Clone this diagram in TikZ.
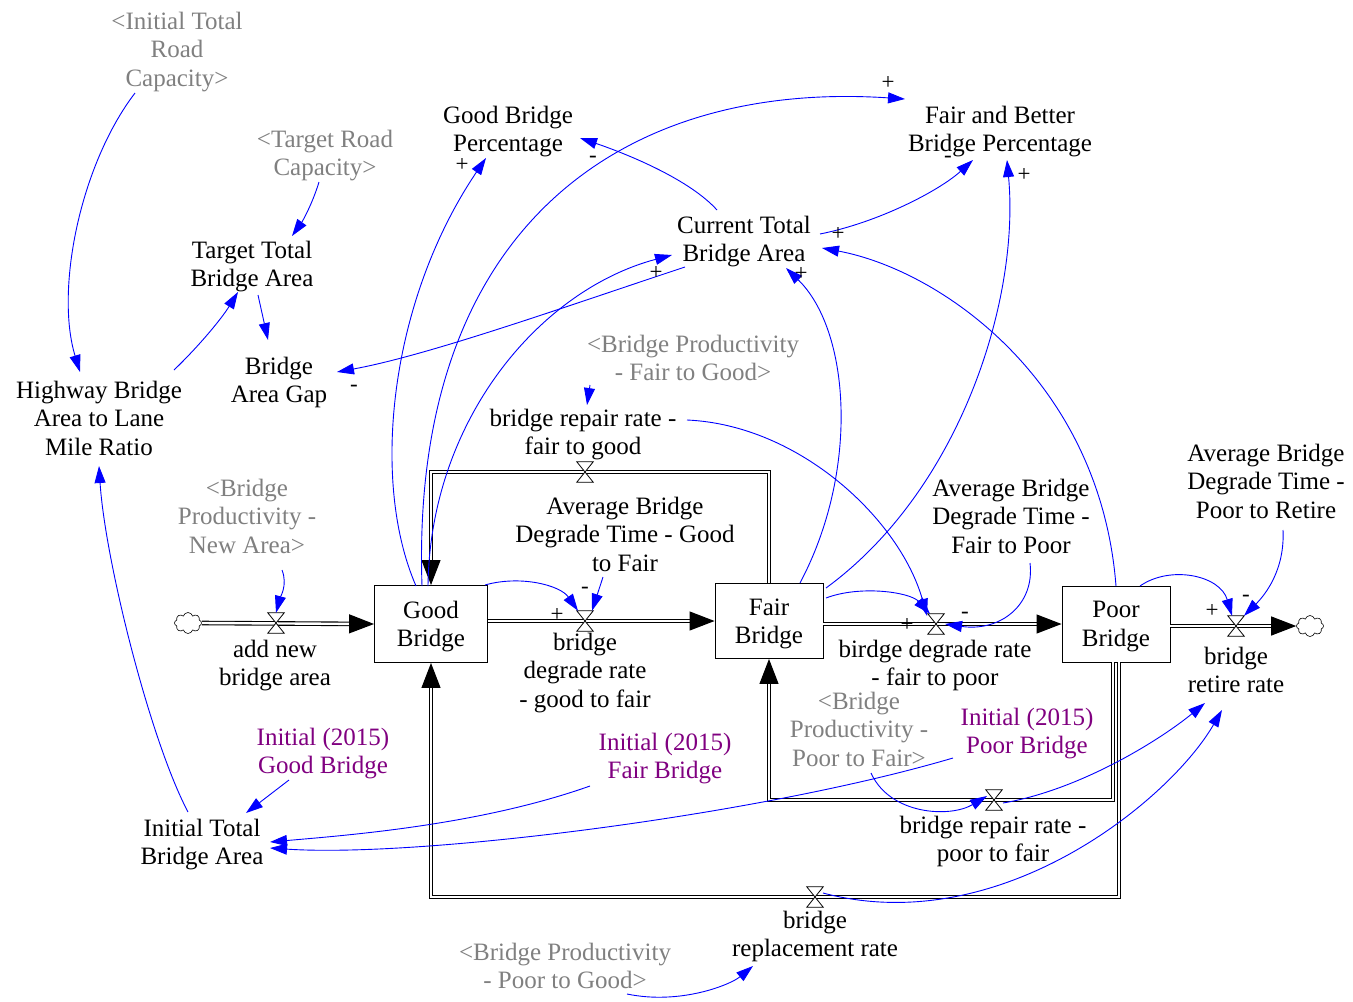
\documentclass[tikz,border=0pt]{standalone}
\usepackage{fontspec}
\setmainfont{Liberation Serif}
\usetikzlibrary{arrows.meta,shapes.symbols}
\definecolor{shadowgray}{RGB}{128,128,128}
\definecolor{initpurple}{RGB}{128,0,128}
\definecolor{linkblue}{RGB}{0,0,255}
\newcommand\valvedraw[2]{%
  \node[inner sep=0pt, minimum width=16pt, minimum height=20pt] (#1) at (#2) {};
  \draw[fill=white, line width=0.8pt] (#1.north west) -- (#1.north east) -- (#1.south west) -- (#1.south east) -- cycle;}
\begin{document}
\begin{tikzpicture}[x=1pt,y=-1pt,
 txt/.style={align=center, font=\fontsize{25}{28.5}\selectfont, inner sep=1pt, text depth=0pt},
 shd/.style={txt, text=shadowgray},
 ini/.style={txt, text=initpurple},
 stock/.style={txt, draw, line width=0.9pt, inner sep=0pt},
 link/.style={color=linkblue, line width=0.9pt, -{Triangle[length=17pt,width=11pt]}},
 pipe/.style={double, double distance=2.4pt, line width=1.1pt, line join=miter},
 pipearrow/.style={pipe, -{Triangle[length=25pt,width=19pt]}},
 pol/.style={font=\fontsize{23}{23}\selectfont, inner sep=0pt},
 cloudnode/.style={cloud, cloud puffs=8, draw, line width=0.6pt, minimum width=27pt, minimum height=21pt, inner sep=0pt, fill=white}]
\useasboundingbox (0,0) rectangle (1353,1002);

% stocks
\node[stock, minimum width=113pt, minimum height=77pt] (gb) at (431,624) {Good\\Bridge};
\node[stock, minimum width=108pt, minimum height=75pt] (fb) at (769,621) {Fair\\Bridge};
\node[stock, minimum width=108pt, minimum height=76pt] (pb) at (1116,624) {Poor\\Bridge};

% clouds
\node[cloudnode] (c1) at (188,623) {};
\node[cloudnode] (c2) at (1310,626) {};

% valve positions (nodes, drawn later)
\coordinate (vfgpos) at (585,472);
\coordinate (vrpfpos) at (994,800);
\coordinate (vreppos) at (815,897);

% pipes
\draw[pipearrow] (c1.east) -- (gb.west);
\draw[pipearrow] (gb.east |- fb.west) -- (fb.west);
\draw[pipearrow] (fb.east |- pb.west) -- (pb.west);
\draw[pipearrow] (pb.east |- c2.west) -- (c2.west);
\draw[pipearrow] (fb.north) -- (fb.north |- vfgpos) -- (gb.north |- vfgpos) -- (gb.north);
\draw[pipearrow] ([xshift=-3pt]pb.south) -- ([xshift=-3pt]pb.south |- vrpfpos) -- (fb.south |- vrpfpos) -- (fb.south);
\draw[pipearrow] ([xshift=3pt]pb.south) -- ([xshift=3pt]pb.south |- vreppos) -- (gb.south |- vreppos) -- (gb.south);

% valves
\valvedraw{vadd}{276,623}
\valvedraw{vgf}{585,621}
\valvedraw{vfp}{936,624}
\valvedraw{vret}{1236,626}
\valvedraw{vfg}{vfgpos}
\valvedraw{vrpf}{vrpfpos}
\valvedraw{vrep}{vreppos}

% flow labels
\node[txt] (ladd) at (275,663) {add new\\bridge area};
\node[txt] (lgf) at (585,670) {bridge\\degrade rate\\- good to fair};
\node[txt] (lfp) at (935,663) {birdge degrade rate\\- fair to poor};
\node[txt] (lret) at (1236,670) {bridge\\retire rate};
\node[txt] (lfg) at (583,432) {bridge repair rate -\\fair to good};
\node[txt] (lpf) at (993,839) {bridge repair rate -\\poor to fair};
\node[txt] (lrep) at (815,934) {bridge\\replacement rate};

% auxiliaries
\node[txt] (gbp) at (508,129) {Good Bridge\\Percentage};
\node[txt] (fbbp) at (1000,129) {Fair and Better\\Bridge Percentage};
\node[txt] (ctba) at (744,239) {Current Total\\Bridge Area};
\node[txt] (ttba) at (252,264) {Target Total\\Bridge Area};
\node[txt] (bag) at (279,380) {Bridge\\Area Gap};
\node[txt] (hbr) at (99,418) {Highway Bridge\\Area to Lane\\Mile Ratio};
\node[txt] (adtgf) at (625,534) {Average Bridge\\Degrade Time - Good\\to Fair};
\node[txt] (adtfp) at (1011,516) {Average Bridge\\Degrade Time -\\Fair to Poor};
\node[txt] (adtpr) at (1266,481) {Average Bridge\\Degrade Time -\\Poor to Retire};
\node[txt] (itba) at (202,842) {Initial Total\\Bridge Area};

% shadow variables
\node[shd] (itrc) at (177,49) {<Initial Total\\Road\\Capacity>};
\node[shd] (trc) at (325,153) {<Target Road\\Capacity>};
\node[shd] (bpfg) at (693,358) {<Bridge Productivity\\- Fair to Good>};
\node[shd] (bpna) at (247,516) {<Bridge\\Productivity -\\New Area>};
\node[shd] (bppf) at (859,729) {<Bridge\\Productivity -\\Poor to Fair>};
\node[shd] (bppg) at (565,966) {<Bridge Productivity\\- Poor to Good>};

% initial values
\node[ini] (ig) at (323,751) {Initial (2015)\\Good Bridge};
\node[ini] (if) at (665,756) {Initial (2015)\\Fair Bridge};
\node[ini] (ip) at (1027,731) {Initial (2015)\\Poor Bridge};

% links
\draw[link] ([shift={(-42,44)}]itrc.center) .. controls (80,165) and (55,290) .. ([shift={(-19,-46)}]hbr.center);
\draw[link] ([shift={(-6,29)}]trc.center) .. controls (312,205) and (302,222) .. ([shift={(40,-28)}]ttba.center);
\draw[link] ([shift={(75,-48)}]hbr.center) .. controls (200,345) and (222,318) .. ([shift={(-14,28)}]ttba.center);
\draw[link] ([shift={(6,31)}]ttba.center) -- ([shift={(-11,-40)}]bag.center);
\draw[link] ([shift={(-59,28)}]ctba.center) .. controls (570,305) and (430,355) .. ([shift={(58,-8)}]bag.center);
\draw[link] ([shift={(-14,-30)}]itba.center) .. controls (150,740) and (105,560) .. ([shift={(0,48)}]hbr.center);
\draw[link] ([shift={(-34,29)}]ig.center) -- ([shift={(44,-29)}]itba.center);
\draw[link] ([shift={(-75,30)}]if.center) .. controls (480,825) and (350,835) .. ([shift={(68,0)}]itba.center);
\draw[link] ([shift={(-74,27)}]ip.center) .. controls (760,815) and (420,858) .. ([shift={(68,6)}]itba.center);
\draw[link] ([shift={(35,54)}]bpna.center) .. controls (288,585) and (280,598) .. (vadd.north);
\draw[link] ([shift={(54,-39)}]gb.center) .. controls (520,575) and (560,585) .. ([xshift=-7pt]vgf.north);
\draw[link] ([shift={(-22,43)}]adtgf.center) -- ([xshift=7pt]vgf.north);
\draw[link] ([shift={(57,-23)}]fb.center) .. controls (860,585) and (910,592) .. ([xshift=-6pt]vfp.north);
\draw[link] ([shift={(19,47)}]adtfp.center) .. controls (1035,605) and (1000,632) .. ([xshift=9pt]vfp.center);
\draw[link] ([shift={(104,-12)}]lfg.center) .. controls (800,425) and (900,520) .. ([xshift=-9pt,yshift=-2pt]vfp.north);
\draw[link] ([shift={(-103,27)}]bpfg.center) -- ([shift={(4,-27)}]lfg.center);
\draw[link] ([shift={(24,-38)}]pb.center) .. controls (1170,565) and (1220,575) .. ([xshift=-4pt]vret.north);
\draw[link] ([shift={(17,49)}]adtpr.center) .. controls (1285,570) and (1265,595) .. ([xshift=8pt]vret.north);
\draw[link] ([xshift=9pt,yshift=-3pt]vrpf.center) .. controls (1080,790) and (1160,740) .. ([shift={(-31,33)}]lret.center);
\draw[link] ([xshift=8pt,yshift=4pt]vrep.center) .. controls (1000,940) and (1170,800) .. ([shift={(-14,40)}]lret.center);
\draw[link] ([shift={(12,44)}]bppf.center) .. controls (890,815) and (950,818) .. ([xshift=-7pt,yshift=4pt]vrpf.center);
\draw[link] ([shift={(62,28)}]bppg.center) .. controls (680,1005) and (730,985) .. ([shift={(-62,32)}]lrep.center);
\draw[link] ([shift={(-15,-38)}]gb.center) .. controls (370,480) and (390,300) .. ([shift={(-22,29)}]gbp.center);
\draw[link] ([shift={(-27,-29)}]ctba.center) .. controls (690,180) and (630,155) .. ([shift={(72,9)}]gbp.center);
\draw[link] ([shift={(-9,-38)}]gb.center) .. controls (410,230) and (620,80) .. ([shift={(-95,-30)}]fbbp.center);
\draw[link] ([shift={(76,-5)}]ctba.center) .. controls (880,222) and (940,190) .. ([shift={(-27,31)}]fbbp.center);
\draw[link] ([shift={(57,-33)}]fb.center) .. controls (960,490) and (1020,300) .. ([shift={(7,31)}]fbbp.center);
\draw[link] ([shift={(0,-38)}]pb.center) .. controls (1100,380) and (940,270) .. ([shift={(78,9)}]ctba.center);
\draw[link] ([shift={(31,-38)}]fb.center) .. controls (860,470) and (850,330) .. ([shift={(42,29)}]ctba.center);
\draw[link] ([shift={(-3,-38)}]gb.center) .. controls (430,420) and (540,290) .. ([shift={(-72,16)}]ctba.center);

% polarities
\node[pol] (p1) at (462,165) {+};
\node[pol] (p2) at (593,159) {-};
\node[pol] (p3) at (888,83) {+};
\node[pol] (p4) at (948,159) {-};
\node[pol] (p5) at (1024,175) {+};
\node[pol] (p6) at (838,234) {+};
\node[pol] (p7) at (801,274) {+};
\node[pol] (p8) at (656,273) {+};
\node[pol] (p9) at (354,388) {-};
\node[pol] (p10) at (585,590) {-};
\node[pol] (p11) at (557,615) {+};
\node[pol] (p12) at (907,625) {+};
\node[pol] (p13) at (965,615) {-};
\node[pol] (p14) at (1212,611) {+};
\node[pol] (p15) at (1246,598) {-};
\end{tikzpicture}
\end{document}
